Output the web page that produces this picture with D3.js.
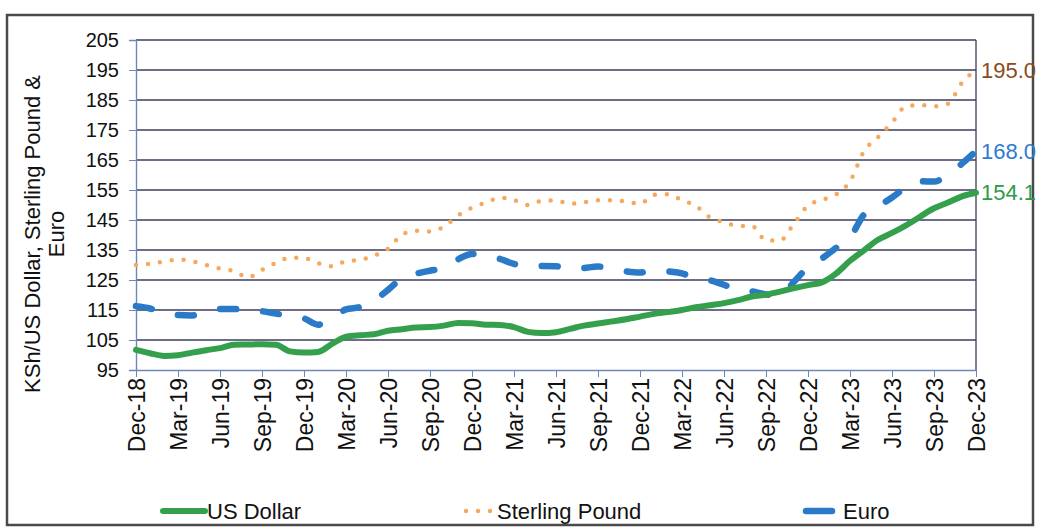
<!DOCTYPE html>
<html>
<head>
<meta charset="utf-8">
<script src="https://cdn.jsdelivr.net/npm/d3@7"></script>
<style>
  body { margin: 0; background: #fff; }
  svg { font-family: "Liberation Sans", Arial, sans-serif; }
</style>
</head>
<body>
<svg width="1039" height="528"></svg>
<script>
// monthly KSh rates, Dec-18 .. Dec-23
const usd = [101.7,100.6,99.7,99.9,100.8,101.6,102.3,103.4,103.5,103.6,103.4,101.2,100.8,101.0,103.7,106.1,106.6,106.9,108.1,108.6,109.2,109.3,109.8,110.7,110.6,110.1,110.0,109.3,107.7,107.3,107.6,108.7,109.8,110.5,111.2,111.9,112.8,113.7,114.3,115.0,115.9,116.6,117.3,118.3,119.5,120.1,121.1,122.3,123.3,124.2,127.1,131.4,134.9,138.4,140.7,143.2,146.1,148.9,150.8,152.9,154.1];
const gbp = [130.0,130.4,131.1,131.8,131.3,130.0,128.8,128.0,125.9,128.4,130.7,132.4,132.3,130.6,129.6,131.3,131.7,133.1,135.4,140.1,141.4,141.2,142.8,146.5,149.1,150.8,152.4,151.6,150.0,151.4,151.5,150.4,150.9,151.6,151.6,151.2,150.4,153.4,153.6,151.6,149.7,145.9,144.3,143.0,143.0,138.2,138.2,143.8,149.8,151.7,153.5,157.9,167.9,172.6,177.5,182.9,183.3,182.9,183.8,190.8,195.0];
const eur = [116.3,115.5,113.9,113.3,113.2,114.3,115.3,115.3,115.1,114.6,113.8,113.0,112.2,110.1,112.4,115.2,116.0,118.2,121.7,125.6,127.1,128.1,129.0,131.9,133.7,133.3,132.0,130.4,129.5,129.7,129.6,128.6,129.0,129.5,128.7,127.9,127.5,128.4,127.9,127.2,125.5,124.9,123.4,121.6,121.2,120.2,119.9,124.4,129.3,132.2,135.7,139.1,146.8,149.5,152.5,155.9,157.9,157.8,160.2,163.8,168.0];

const tickLabels = ['Dec-18','Mar-19','Jun-19','Sep-19','Dec-19','Mar-20','Jun-20','Sep-20','Dec-20','Mar-21','Jun-21','Sep-21','Dec-21','Mar-22','Jun-22','Sep-22','Dec-22','Mar-23','Jun-23','Sep-23','Dec-23'];
const yTicks = [95,105,115,125,135,145,155,165,175,185,195,205];
const seriesNames = ['US Dollar','Sterling Pound','Euro'];

const X0 = 136, X1 = 976, YT = 40, YB = 370;
const GRID = '#3d3d5c';

const x = d3.scaleLinear().domain([0, usd.length - 1]).range([X0, X1]);
const y = d3.scaleLinear().domain([95, 205]).range([YB, YT]);

const series = [
  {name: seriesNames[0], vals: usd, color: '#35a04c', width: 6, dash: null, label: '#2f9a48'},
  {name: seriesNames[1], vals: gbp, color: '#f6a95e', width: 4.5, dash: '0 12', label: '#8d4a20'},
  {name: seriesNames[2], vals: eur, color: '#2b7ac8', width: 6.5, dash: '16 27', label: '#2e7bcf'}
];

function drawFrame(svg){
  svg.append('rect').attr('x', 7).attr('y', 15).attr('width', 1026).attr('height', 510)
     .attr('fill', 'none').attr('stroke', '#4a4a4a').attr('stroke-width', 2.5);
}

function drawAxes(svg){
  // gridlines
  svg.append('g').selectAll('line').data(yTicks.slice(1)).join('line')
     .attr('x1', X0).attr('x2', X1).attr('y1', d => y(d)).attr('y2', d => y(d))
     .attr('stroke', GRID).attr('stroke-width', 1.3);
  // right edge of plot
  svg.append('line').attr('x1', X1).attr('x2', X1).attr('y1', YT).attr('y2', YB)
     .attr('stroke', GRID).attr('stroke-width', 1.3);

  let yAxis = d3.axisLeft(y).tickValues(yTicks).tickSize(7).tickPadding(10);
  let gy = svg.append('g').attr('transform', `translate(${X0},0)`).call(yAxis);
  gy.select('.domain').attr('stroke', '#6f86b8').attr('stroke-width', 1.4);
  gy.selectAll('.tick line').attr('stroke', '#6f86b8');
  gy.selectAll('text').attr('font-size', 20).attr('fill', '#111').attr('font-family', 'Liberation Sans, Arial');

  let xAxis = d3.axisBottom(x).tickValues(d3.range(0, usd.length, 3))
                .tickFormat((d, i) => tickLabels[i]).tickSize(7).tickSizeOuter(0);
  let gx = svg.append('g').attr('transform', `translate(0,${YB})`).call(xAxis);
  gx.select('.domain').attr('stroke', '#6f86b8').attr('stroke-width', 1.4);
  gx.selectAll('.tick line').attr('stroke', '#6f86b8');
  gx.selectAll('text').attr('font-size', 23).attr('fill', '#111').attr('font-family', 'Liberation Sans, Arial')
    .attr('text-anchor', 'end').attr('dy', '0.35em')
    .attr('transform', 'translate(0,8) rotate(-90)').attr('x', 0).attr('y', 0);

  // axis title
  let t = svg.append('text').attr('font-size', 22).attr('fill', '#111').attr('text-anchor', 'middle')
             .attr('transform', 'translate(40,234) rotate(-90)');
  t.append('tspan').attr('x', 0).attr('y', 0).text('KSh/US Dollar, Sterling Pound &');
  t.append('tspan').attr('x', 0).attr('y', 24).text('Euro');
}

function drawLines(svg){
  let line = d3.line().x((d, i) => x(i)).y(d => y(d)).curve(d3.curveMonotoneX);
  svg.append('g').selectAll('path').data([series[1], series[2], series[0]]).join('path')
     .attr('d', d => line(d.vals)).attr('fill', 'none')
     .attr('stroke', d => d.color).attr('stroke-width', d => d.width)
     .attr('stroke-linecap', 'round').attr('stroke-linejoin', 'round')
     .attr('stroke-dasharray', d => d.dash);

  svg.append('g').selectAll('text').data(series).join('text')
     .attr('x', X1 + 5).attr('y', d => y(d.vals[d.vals.length - 1]))
     .attr('dy', '0.35em').attr('font-size', 22).attr('fill', d => d.label)
     .text(d => d.vals[d.vals.length - 1].toFixed(1));
}

function drawLegend(svg){
  let items = [{s: series[0], x: 163, tx: 207}, {s: series[1], x: 466, tx: 497}, {s: series[2], x: 806, tx: 843}];
  let g = svg.append('g');
  items.forEach(it => {
    let len = it.s.dash ? 26 : 42;
    g.append('line').attr('x1', it.x).attr('x2', it.x + len).attr('y1', 511).attr('y2', 511)
     .attr('stroke', it.s.color).attr('stroke-width', it.s.width)
     .attr('stroke-linecap', 'round').attr('stroke-dasharray', it.s.dash === '0 12' ? '0 12' : null);
    g.append('text').attr('x', it.tx).attr('y', 519).attr('font-size', 22).attr('fill', '#111').text(it.s.name);
  });
}

function main(){
  let svg = d3.select('svg');
  drawFrame(svg);
  drawAxes(svg);
  drawLines(svg);
  drawLegend(svg);
}
main();
</script>
</body>
</html>
